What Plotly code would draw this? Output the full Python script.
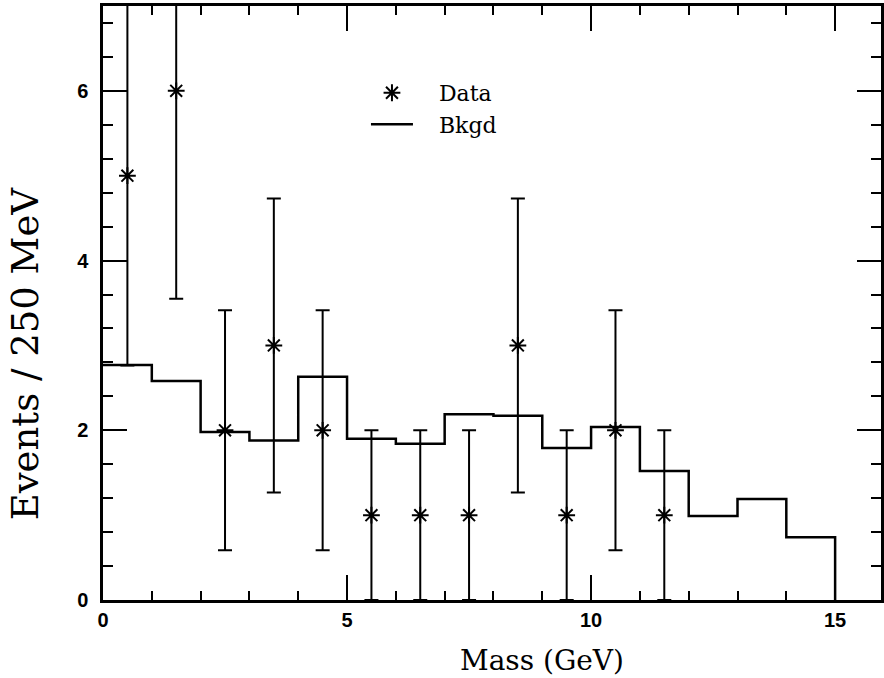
import plotly.graph_objects as go

# Bin edges (GeV) and background expectation per bin
bin_edges = [0, 1, 2, 3, 4, 5, 6, 7, 8, 9, 10, 11, 12, 13, 14, 15]
bkgd = [2.77, 2.58, 1.98, 1.88, 2.63, 1.90, 1.84, 2.19, 2.17, 1.79, 2.04, 1.52, 0.99, 1.19, 0.74]

# Observed event counts at bin centres
data_x = [0.5, 1.5, 2.5, 3.5, 4.5, 5.5, 6.5, 7.5, 8.5, 9.5, 10.5, 11.5]
data_n = [5, 6, 2, 3, 2, 1, 1, 1, 3, 1, 2, 1]
data_err = [n ** 0.5 for n in data_n]

x_ticks = [0, 5, 10, 15]
y_ticks = [0, 2, 4, 6]

# Step outline of the background histogram, closed down to zero at the last edge
step_x = bin_edges + [bin_edges[-1]]
step_y = bkgd + [bkgd[-1], 0]

SERIF = "DejaVu Serif"

fig = go.Figure()

fig.add_trace(go.Scatter(
    x=data_x, y=data_n, mode="markers", name="\u00a0\u00a0\u00a0Data",
    marker=dict(symbol="asterisk-open", size=14, color="black",
                line=dict(color="black", width=2)),
    error_y=dict(type="data", array=data_err, visible=True,
                 color="black", thickness=2, width=7),
))

fig.add_trace(go.Scatter(
    x=step_x, y=step_y, mode="lines", name="\u00a0\u00a0\u00a0Bkgd",
    line=dict(color="black", width=2.5, shape="hv"),
))

tick_font = dict(family="Liberation Sans", size=20, color="black", weight="bold")

fig.update_xaxes(
    range=[0, 15.94], tickvals=x_ticks, ticktext=[str(v) for v in x_ticks],
    ticks="inside", ticklen=25, tickwidth=2, tickcolor="black",
    minor=dict(ticks="inside", dtick=1, tick0=0, ticklen=9, tickwidth=2, tickcolor="black"),
    showline=True, linewidth=2.5, linecolor="black", mirror="allticks",
    showgrid=False, zeroline=False, tickfont=tick_font, ticklabelstandoff=0,
)
fig.update_yaxes(
    range=[0, 7], tickvals=y_ticks, ticktext=[str(v) for v in y_ticks],
    ticks="inside", ticklen=24, tickwidth=2, tickcolor="black",
    minor=dict(ticks="inside", dtick=0.4, tick0=0, ticklen=10, tickwidth=2, tickcolor="black"),
    showline=True, linewidth=2.5, linecolor="black", mirror="allticks",
    showgrid=False, zeroline=False, tickfont=tick_font, ticklabelstandoff=8,
)

fig.update_layout(
    width=884, height=678,
    margin=dict(l=103, r=0, t=6, b=78),
    paper_bgcolor="white", plot_bgcolor="white",
    showlegend=True,
    legend=dict(x=0.338, y=0.889, xanchor="left", yanchor="top",
                bgcolor="rgba(0,0,0,0)", borderwidth=0,
                font=dict(family=SERIF, size=22, color="black"),
                itemwidth=42),
    annotations=[
        dict(text="Mass (GeV)", xref="paper", yref="paper",
             x=(544 - 103) / 781, y=-(660 - 600) / 594,
             xanchor="center", yanchor="middle", showarrow=False,
             font=dict(family=SERIF, size=28, color="black")),
        dict(text="Events / 250 MeV", xref="paper", yref="paper",
             x=-(103 - 26) / 781, y=(600 - 353) / 594, textangle=-90,
             xanchor="center", yanchor="middle", showarrow=False,
             font=dict(family=SERIF, size=37, color="black")),
    ],
)

fig.write_html("out.html")
